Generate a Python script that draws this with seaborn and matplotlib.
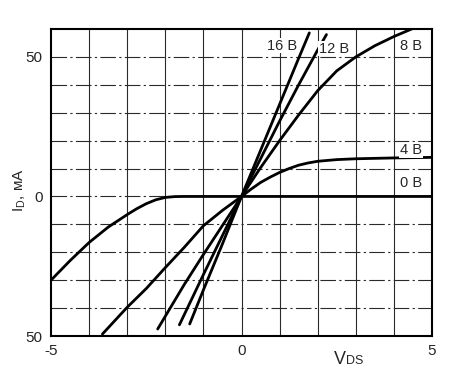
import numpy as np
import pandas as pd
import matplotlib
matplotlib.use("Agg")
import matplotlib.pyplot as plt
import seaborn as sns

# data (V_DS in V, I_D in mA)
v0_x = [-5.0, -4.5, -4.0, -3.5, -3.0, -2.75, -2.5, -2.25, -2.0, -1.75, -1.5, 0.0, 5.0]
v0_y = [-30.0, -23.0, -16.5, -11.0, -6.5, -4.4, -2.6, -1.2, -0.35, -0.05, 0.0, 0.0, 0.0]

v4_x = [-3.65, -3.0, -2.5, -2.0, -1.5, -1.0, -0.5, 0.0, 0.25, 0.5, 0.75, 1.0,
        1.25, 1.5, 1.75, 2.0, 2.5, 3.0, 4.0, 5.0]
v4_y = [-49.3, -39.7, -33.0, -25.5, -18.2, -10.5, -5.0, 0.0, 2.6, 5.0, 6.9, 8.6,
        10.0, 11.2, 12.0, 12.6, 13.2, 13.5, 13.8, 14.0]

v8_x = [-2.2, -1.5, -1.0, -0.5, 0.0, 0.5, 1.0, 1.5, 2.0, 2.5, 3.0, 3.5, 4.0, 4.5]
v8_y = [-47.5, -31.5, -20.8, -10.4, 0.0, 10.3, 20.0, 29.2, 37.9, 45.0, 50.0, 54.0, 57.3, 60.2]

v12_x = [-1.63, -1.0, -0.5, 0.0, 0.5, 1.0, 1.5, 2.0, 2.23]
v12_y = [-46.0, -28.0, -14.0, 0.0, 13.5, 27.0, 40.0, 52.5, 58.0]

v16_x = [-1.36, -1.0, -0.5, 0.0, 0.5, 1.0, 1.5, 1.78]
v16_y = [-45.7, -33.5, -17.0, 0.0, 16.5, 33.0, 49.5, 58.6]

curve_names = ["0 В", "4 В", "8 В", "12 В", "16 В"]
label_x = [4.45, 4.45, 4.45, 2.43, 1.07]
label_y = [4.7, 16.5, 54.0, 53.0, 54.0]

frames = []
for name, xs, ys in zip(curve_names,
                        [v0_x, v4_x, v8_x, v12_x, v16_x],
                        [v0_y, v4_y, v8_y, v12_y, v16_y]):
    frames.append(pd.DataFrame({"vds": xs, "id": ys, "vgs": name}))
df = pd.concat(frames, ignore_index=True)

sns.set_style("white")
plt.rcParams['font.family'] = ['Liberation Sans', 'DejaVu Sans']
plt.rcParams['mathtext.fontset'] = 'custom'
plt.rcParams['mathtext.rm'] = 'Liberation Sans'

fig = plt.figure(figsize=(4.74, 3.75), dpi=100)
ax = fig.add_axes([0.1076, 0.104, 0.8038, 0.8187])

# grid
for gx in range(-4, 5):
    ax.axvline(gx, color='#2a2a2a', lw=0.8, zorder=1)
for gy in range(-40, 60, 10):
    ax.axhline(gy, color='#2a2a2a', lw=0.8, ls=(0, (14, 3, 2, 3)), zorder=1)

sns.lineplot(data=df, x="vds", y="id", hue="vgs", units="vgs", estimator=None,
             sort=False, palette=["black"] * 5, linewidth=2.0, legend=False,
             ax=ax, zorder=3)

for name, lx, ly in zip(curve_names, label_x, label_y):
    ax.text(lx, ly, name, ha='center', va='center', fontsize=10.5, zorder=4,
            bbox=dict(facecolor='white', edgecolor='none', pad=0.5))

ax.set_xlim(-5, 5)
ax.set_ylim(-50, 60)
ax.set_xticks([-5, 0, 5])
ax.set_xticklabels(["-5", "0", "5"])
ax.set_yticks([-50, 0, 50])
ax.set_yticklabels(["50", "0", "50"])
ax.tick_params(length=0, labelsize=11, pad=6)
for s in ax.spines.values():
    s.set_linewidth(1.5)
    s.set_color('black')

ax.set_xlabel("")
ax.set_ylabel("")
fig.text(0.73, 1 - 359 / 375, "V", fontsize=13, ha='right', va='center')
fig.text(0.73, 1 - 361 / 375, "DS", fontsize=9, ha='left', va='center')
fig.text(20 / 474, 1 - 190 / 375, r"I$_{\mathrm{D}}$, мА", fontsize=11,
         rotation=90, ha='center', va='center')

fig.savefig("out.png", dpi=100)
